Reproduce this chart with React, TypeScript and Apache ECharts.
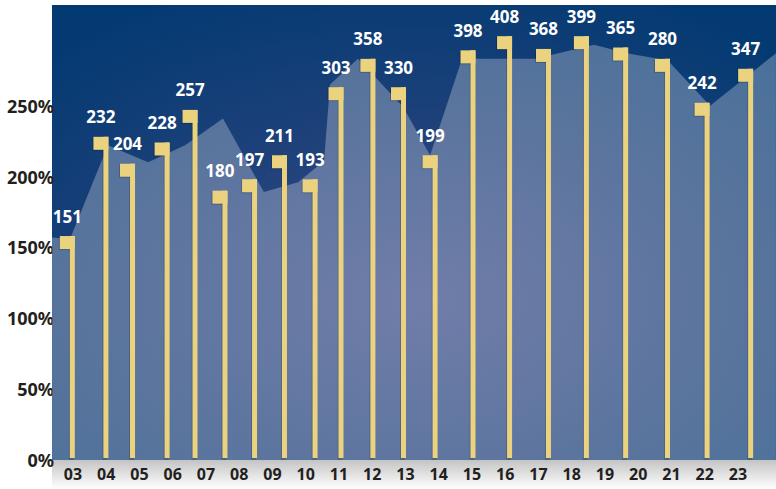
import React, { useEffect, useRef } from "react";
import * as echarts from "echarts";

// ---- data ----
const categories = ["03","04","05","06","07","08","09","10","11","12","13","14","15","16","17","18","19","20","21","22","23"];
// printed value above each flag
const barLabels = [151, 232, 204, 228, 257, 180, 197, 211, 193, 303, 358, 330, 199, 398, 408, 368, 399, 365, 280, 242, 347];
// flag heights on the % axis
const barHeight = [158, 228, 209, 224, 247, 190, 198, 215, 198, 263, 283, 263, 215, 289, 299, 290, 299, 291, 283, 252, 276];
// flag positions along the category index scale (03 = 0)
const barPos = [-0.02, 0.99, 1.79, 2.83, 3.67, 4.57, 5.46, 6.36, 7.28, 8.06, 9.02, 9.94, 10.89, 12.03, 13.13, 14.3, 15.44, 16.62, 17.88, 19.07, 20.38];
// background area (index position, % value)
const areaX = [-0.63, -0.09, 1.05, 2.26, 3.37, 4.51, 5.74, 6.77, 7.55, 7.73, 8.57, 9.93, 10.74, 11.7, 13.9, 15.67, 16.66, 17.59, 17.96, 19.16, 21.14];
const areaY = [157, 156, 222, 210, 222, 241, 189, 196, 211, 265, 283, 249, 215, 283, 283, 293, 287, 283, 280, 250, 287];
const yTicks = [0, 50, 100, 150, 200, 250];

// ---- layout ----
const W = 776;
const H = 489;
const PLOT_LEFT = 52;
const PLOT_TOP = 5;
const PLOT_BOTTOM = 29;
const LABEL_FIRST = 73;
const LABEL_STEP = 33.25;
const Y_MAX = 321;
const FONT = "'Noto Sans', 'DejaVu Sans', sans-serif";

export default function App() {
  const ref = useRef<HTMLDivElement>(null);

  useEffect(() => {
    if (!ref.current) return;
    const chart = echarts.init(ref.current, undefined, { renderer: "svg" });
    const xMin = (PLOT_LEFT - LABEL_FIRST) / LABEL_STEP;
    const xMax = (W - LABEL_FIRST) / LABEL_STEP;
    const poleW = 5;
    const flagW = 15;
    const flagH = 13;

    const option: any = {
      animation: false,
      graphic: [
        {
          type: "rect",
          z: -10,
          shape: { x: PLOT_LEFT, y: H - PLOT_BOTTOM, width: W - PLOT_LEFT, height: PLOT_BOTTOM },
          style: {
            fill: new echarts.graphic.LinearGradient(0, 0, 0, 1, [
              { offset: 0, color: "#c4c4c4" },
              { offset: 0.6, color: "#e8e8e8" },
              { offset: 1, color: "#ffffff" },
            ]),
          },
        },
      ],
      grid: [
        {
          left: PLOT_LEFT,
          right: 0,
          top: PLOT_TOP,
          bottom: PLOT_BOTTOM,
          show: true,
          borderWidth: 0,
          backgroundColor: new echarts.graphic.RadialGradient(0.5, 0.65, 0.75, [
            { offset: 0, color: "#3a4c88" },
            { offset: 0.55, color: "#1c4079" },
            { offset: 1, color: "#033a72" },
          ]),
        },
        {
          left: LABEL_FIRST - LABEL_STEP / 2,
          width: LABEL_STEP * categories.length,
          top: PLOT_TOP,
          bottom: PLOT_BOTTOM,
        },
      ],
      xAxis: [
        { type: "value", gridIndex: 0, min: xMin, max: xMax, show: false },
        {
          type: "category",
          gridIndex: 1,
          data: categories,
          axisLine: { show: false },
          axisTick: { show: false },
          axisLabel: { color: "#231f20", fontSize: 16, fontWeight: "bold", fontFamily: FONT, margin: 6 },
        },
      ],
      yAxis: [
        {
          type: "value",
          gridIndex: 0,
          min: 0,
          max: Y_MAX,
          interval: 50,
          axisLine: { show: false },
          axisTick: { show: false },
          splitLine: { show: false },
          axisLabel: {
            margin: -2,
            color: "#231f20",
            fontSize: 18,
            fontWeight: "bold",
            fontFamily: FONT,
            formatter: (v: number) => (yTicks.indexOf(v) >= 0 ? v + "%" : ""),
          },
        },
        { type: "value", gridIndex: 1, min: 0, max: Y_MAX, show: false },
      ],
      series: [
        {
          type: "line",
          xAxisIndex: 0,
          yAxisIndex: 0,
          data: areaX.map((x, i) => [x, areaY[i]]),
          symbol: "none",
          lineStyle: { width: 0, opacity: 0 },
          areaStyle: { color: "rgba(255,255,255,0.28)", opacity: 1 },
          silent: true,
          z: 1,
        },
        {
          type: "custom",
          xAxisIndex: 0,
          yAxisIndex: 0,
          data: barPos.map((x, i) => [x, barHeight[i]]),
          encode: { x: 0, y: 1 },
          z: 3,
          renderItem: (params: any, api: any) => {
            const x = api.value(0);
            const v = api.value(1);
            const top = api.coord([x, v]);
            const base = api.coord([x, 0]);
            const right = top[0] + poleW / 2;
            const flagCx = right - flagW / 2;
            return {
              type: "group",
              children: [
                {
                  type: "rect",
                  shape: { x: right - flagW - 1, y: top[1] + 1, width: flagW, height: flagH },
                  style: { fill: "rgba(0,0,0,0.18)" },
                },
                {
                  type: "rect",
                  shape: { x: right - poleW - 1, y: top[1] + 1, width: poleW, height: base[1] - top[1] - 1 },
                  style: { fill: "rgba(0,0,0,0.15)" },
                },
                {
                  type: "rect",
                  shape: { x: right - poleW, y: top[1], width: poleW, height: base[1] - top[1] - 2 },
                  style: { fill: "#ead27e" },
                },
                {
                  type: "rect",
                  shape: { x: right - flagW, y: top[1], width: flagW, height: flagH },
                  style: { fill: "#ead27e" },
                },
                {
                  type: "text",
                  x: flagCx,
                  y: top[1] - 20,
                  style: {
                    text: String(barLabels[params.dataIndex]),
                    fill: "#ffffff",
                    font: `bold 17px ${FONT}`,
                    align: "center",
                    verticalAlign: "middle",
                  },
                },
              ],
            };
          },
        },
      ],
    };
    chart.setOption(option);
    return () => chart.dispose();
  }, []);

  return (
    <div
      ref={ref}
      style={{ position: "fixed", left: 0, top: 0, width: W, height: H, background: "#ffffff" }}
    />
  );
}
